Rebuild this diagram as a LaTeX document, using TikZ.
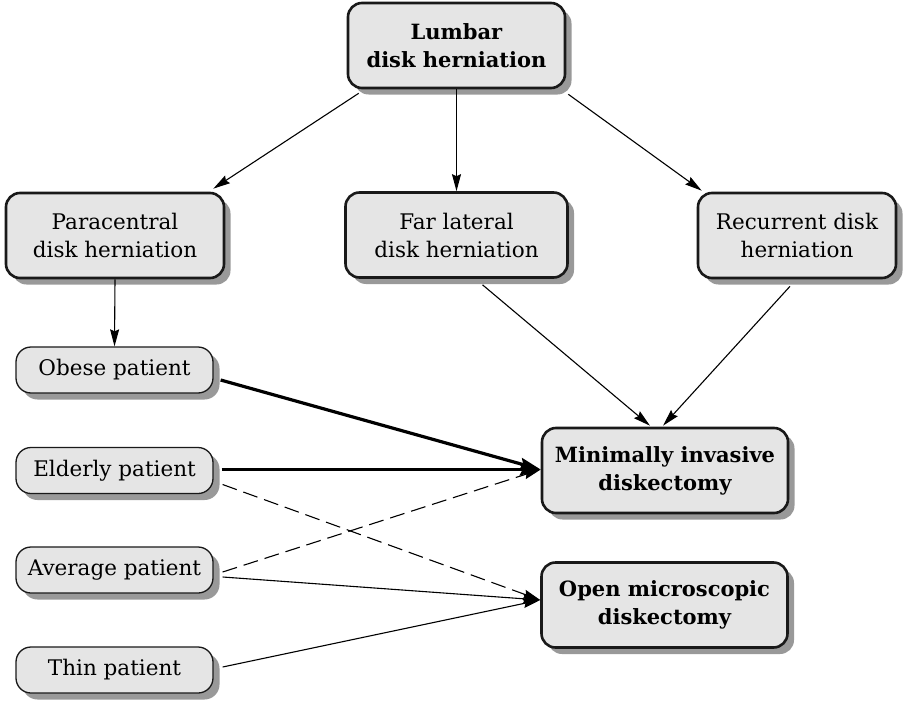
\documentclass[tikz,border=0pt]{standalone}
\usepackage{fontspec}
\setmainfont{DejaVu Serif}
\usetikzlibrary{arrows.meta, shadows}

\tikzset{
  box/.style={draw=black!90, fill=black!10, rounded corners=14pt, line width=2.6pt,
    align=center, minimum height=85pt, inner sep=3pt,
    font=\fontsize{21.5}{28}\selectfont,
    drop shadow={shadow xshift=6.5pt, shadow yshift=-6.5pt, fill=black!40, opacity=1}},
  bold/.style={font=\fontsize{21}{28}\selectfont\bfseries},
  patient/.style={box, line width=1.3pt, rounded corners=15pt,
    minimum width=197pt, minimum height=46pt},
  link/.style={-{Stealth[length=17pt,width=9pt,inset=2pt]}, line width=1.1pt},
  heavy/.style={-{Stealth[length=21pt,width=12pt,inset=3pt]}, line width=3.2pt},
  maybe/.style={link, dash pattern=on 15pt off 7pt}
}

\begin{document}
\begin{tikzpicture}[x=1pt, y=-1pt]
\useasboundingbox (0,0) rectangle (905,701);

% herniation types
\node[box, bold, minimum width=217pt] (lumbar) at (456.5,45.5) {Lumbar\\disk herniation};
\node[box, minimum width=218pt] (para) at (115,235.5) {Paracentral\\disk herniation};
\node[box, minimum width=222pt] (far) at (456.5,235) {Far lateral\\disk herniation};
\node[box, minimum width=198pt] (recur) at (797,235.5) {Recurrent disk\\herniation};

% patients
\node[patient] (obese) at (114.5,370) {Obese patient};
\node[patient] (elderly) at (114.5,470.5) {Elderly patient};
\node[patient] (average) at (114.5,570) {Average patient};
\node[patient] (thin) at (114.5,670) {Thin patient};

% treatments
\node[box, bold, minimum width=246pt] (mini) at (665,470.5) {Minimally invasive\\diskectomy};
\node[box, bold, minimum width=246pt] (open) at (664.5,605) {Open microscopic\\diskectomy};

\draw[link] ([xshift=12pt,yshift=-4pt]lumbar.south west) -- ([xshift=-12pt,yshift=3pt]para.north east);
\draw[link] (lumbar.south) -- (far.north);
\draw[link] ([xshift=2pt,yshift=-5pt]lumbar.south east) -- ([xshift=5pt,yshift=1pt]recur.north west);
\draw[link] (para.south) -- (obese.north);

\draw[link] ([xshift=26pt,yshift=-6pt]far.south) -- ([xshift=-15pt,yshift=1pt]mini.north);
\draw[link] ([xshift=-7pt,yshift=-7pt]recur.south) -- ([xshift=-2pt,yshift=1pt]mini.north);

\draw[heavy] ([xshift=7pt,yshift=-10pt]obese.east) -- ([yshift=1pt]mini.west);
\draw[heavy] ([xshift=8pt,yshift=1pt]elderly.east) -- ([yshift=1pt]mini.west);
\draw[maybe] ([xshift=9pt,yshift=-14pt]elderly.east) -- ([yshift=5pt]open.west);
\draw[maybe] ([xshift=9pt,yshift=-2pt]average.east) -- ([yshift=1pt]mini.west);
\draw[link] ([xshift=9pt,yshift=-7pt]average.east) -- ([yshift=5pt]open.west);
\draw[link] ([xshift=9pt,yshift=3pt]thin.east) -- ([yshift=5pt]open.west);
\end{tikzpicture}
\end{document}
